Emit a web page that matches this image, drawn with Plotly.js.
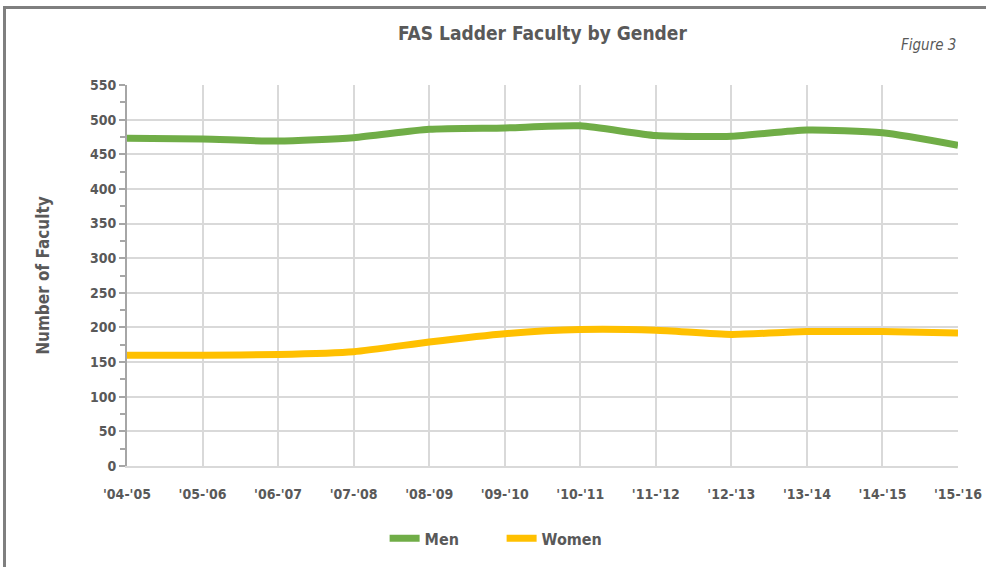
<!DOCTYPE html>
<html>
<head>
<meta charset="utf-8">
<script src="https://cdn.plot.ly/plotly-3.0.1.min.js"></script>
<style>
html,body{margin:0;padding:0;background:#fff;overflow:hidden;}
#frame{position:absolute;left:3px;top:6px;width:1100px;height:700px;border:3px solid #7f7f7f;box-sizing:border-box;}
#chart{position:absolute;left:0;top:0;width:986px;height:567px;}
</style>
</head>
<body>
<div id="frame"></div>
<div id="chart"></div>
<script>
const years = ["'04-'05","'05-'06","'06-'07","'07-'08","'08-'09","'09-'10","'10-'11","'11-'12","'12-'13","'13-'14","'14-'15","'15-'16"];
const men = [473, 472, 469, 474, 486, 488, 491, 477, 476, 485, 481, 463];
const women = [160, 160, 161, 165, 179, 191, 197, 196, 190, 194, 194, 192];

const FONT = "'DejaVu Sans Condensed', 'Liberation Sans Narrow', sans-serif";
const TXT = "#595959";

const traces = [
  {x: years, y: men, name: "Men", type: "scatter", mode: "lines",
   line: {color: "#70ad47", width: 7, shape: "spline", smoothing: 0.6}},
  {x: years, y: women, name: "Women", type: "scatter", mode: "lines",
   line: {color: "#ffc000", width: 7, shape: "spline", smoothing: 0.6}}
];

const layout = {
  width: 986, height: 567,
  margin: {l: 127, r: 28, t: 85, b: 97},
  paper_bgcolor: "rgba(0,0,0,0)",
  plot_bgcolor: "rgba(0,0,0,0)",
  font: {family: FONT, color: TXT, size: 14},
  title: {text: "<b>FAS Ladder Faculty by Gender</b>", x: 0.5, xref: "paper", y: 0.942, yanchor: "middle",
          font: {family: FONT, size: 19, color: TXT}},
  xaxis: {
    type: "category", range: [0, 11],
    showgrid: true, gridcolor: "#d9d9d9", gridwidth: 2,
    showline: true, linecolor: "#d9d9d9", linewidth: 2,
    ticks: "", ticklabelstandoff: 14,
    tickfont: {family: FONT, size: 14, color: TXT, weight: "bold"},
    zeroline: false, fixedrange: true
  },
  yaxis: {
    range: [0, 550], dtick: 50, tick0: 0,
    showgrid: true, gridcolor: "#d9d9d9", gridwidth: 2,
    showline: true, linecolor: "#a6a6a6", linewidth: 2,
    ticks: "outside", ticklen: 6, tickwidth: 2, tickcolor: "#a6a6a6",
    minor: {dtick: 25, ticks: "outside", ticklen: 5, tickwidth: 2, tickcolor: "#a6a6a6", showgrid: false},
    tickfont: {family: FONT, size: 14, color: TXT, weight: "bold"},
    title: {text: "<b>Number of Faculty</b>", font: {family: FONT, size: 17, color: TXT}, standoff: 36},
    zeroline: false, fixedrange: true
  },
  showlegend: true,
  legend: {orientation: "h", x: 0.31, xanchor: "left", y: -0.19, yanchor: "middle",
           entrywidth: 72, entrywidthmode: "pixels",
           font: {family: FONT, size: 16, color: TXT, weight: "bold"}, tracegroupgap: 0},
  annotations: [
    {text: "<i>Figure 3</i>", xref: "paper", yref: "paper", x: 1, xanchor: "right", y: 1.104, yanchor: "middle",
     showarrow: false, font: {family: FONT, size: 15, color: TXT}}
  ]
};

Plotly.newPlot("chart", traces, layout, {displayModeBar: false, staticPlot: true});
</script>
</body>
</html>
